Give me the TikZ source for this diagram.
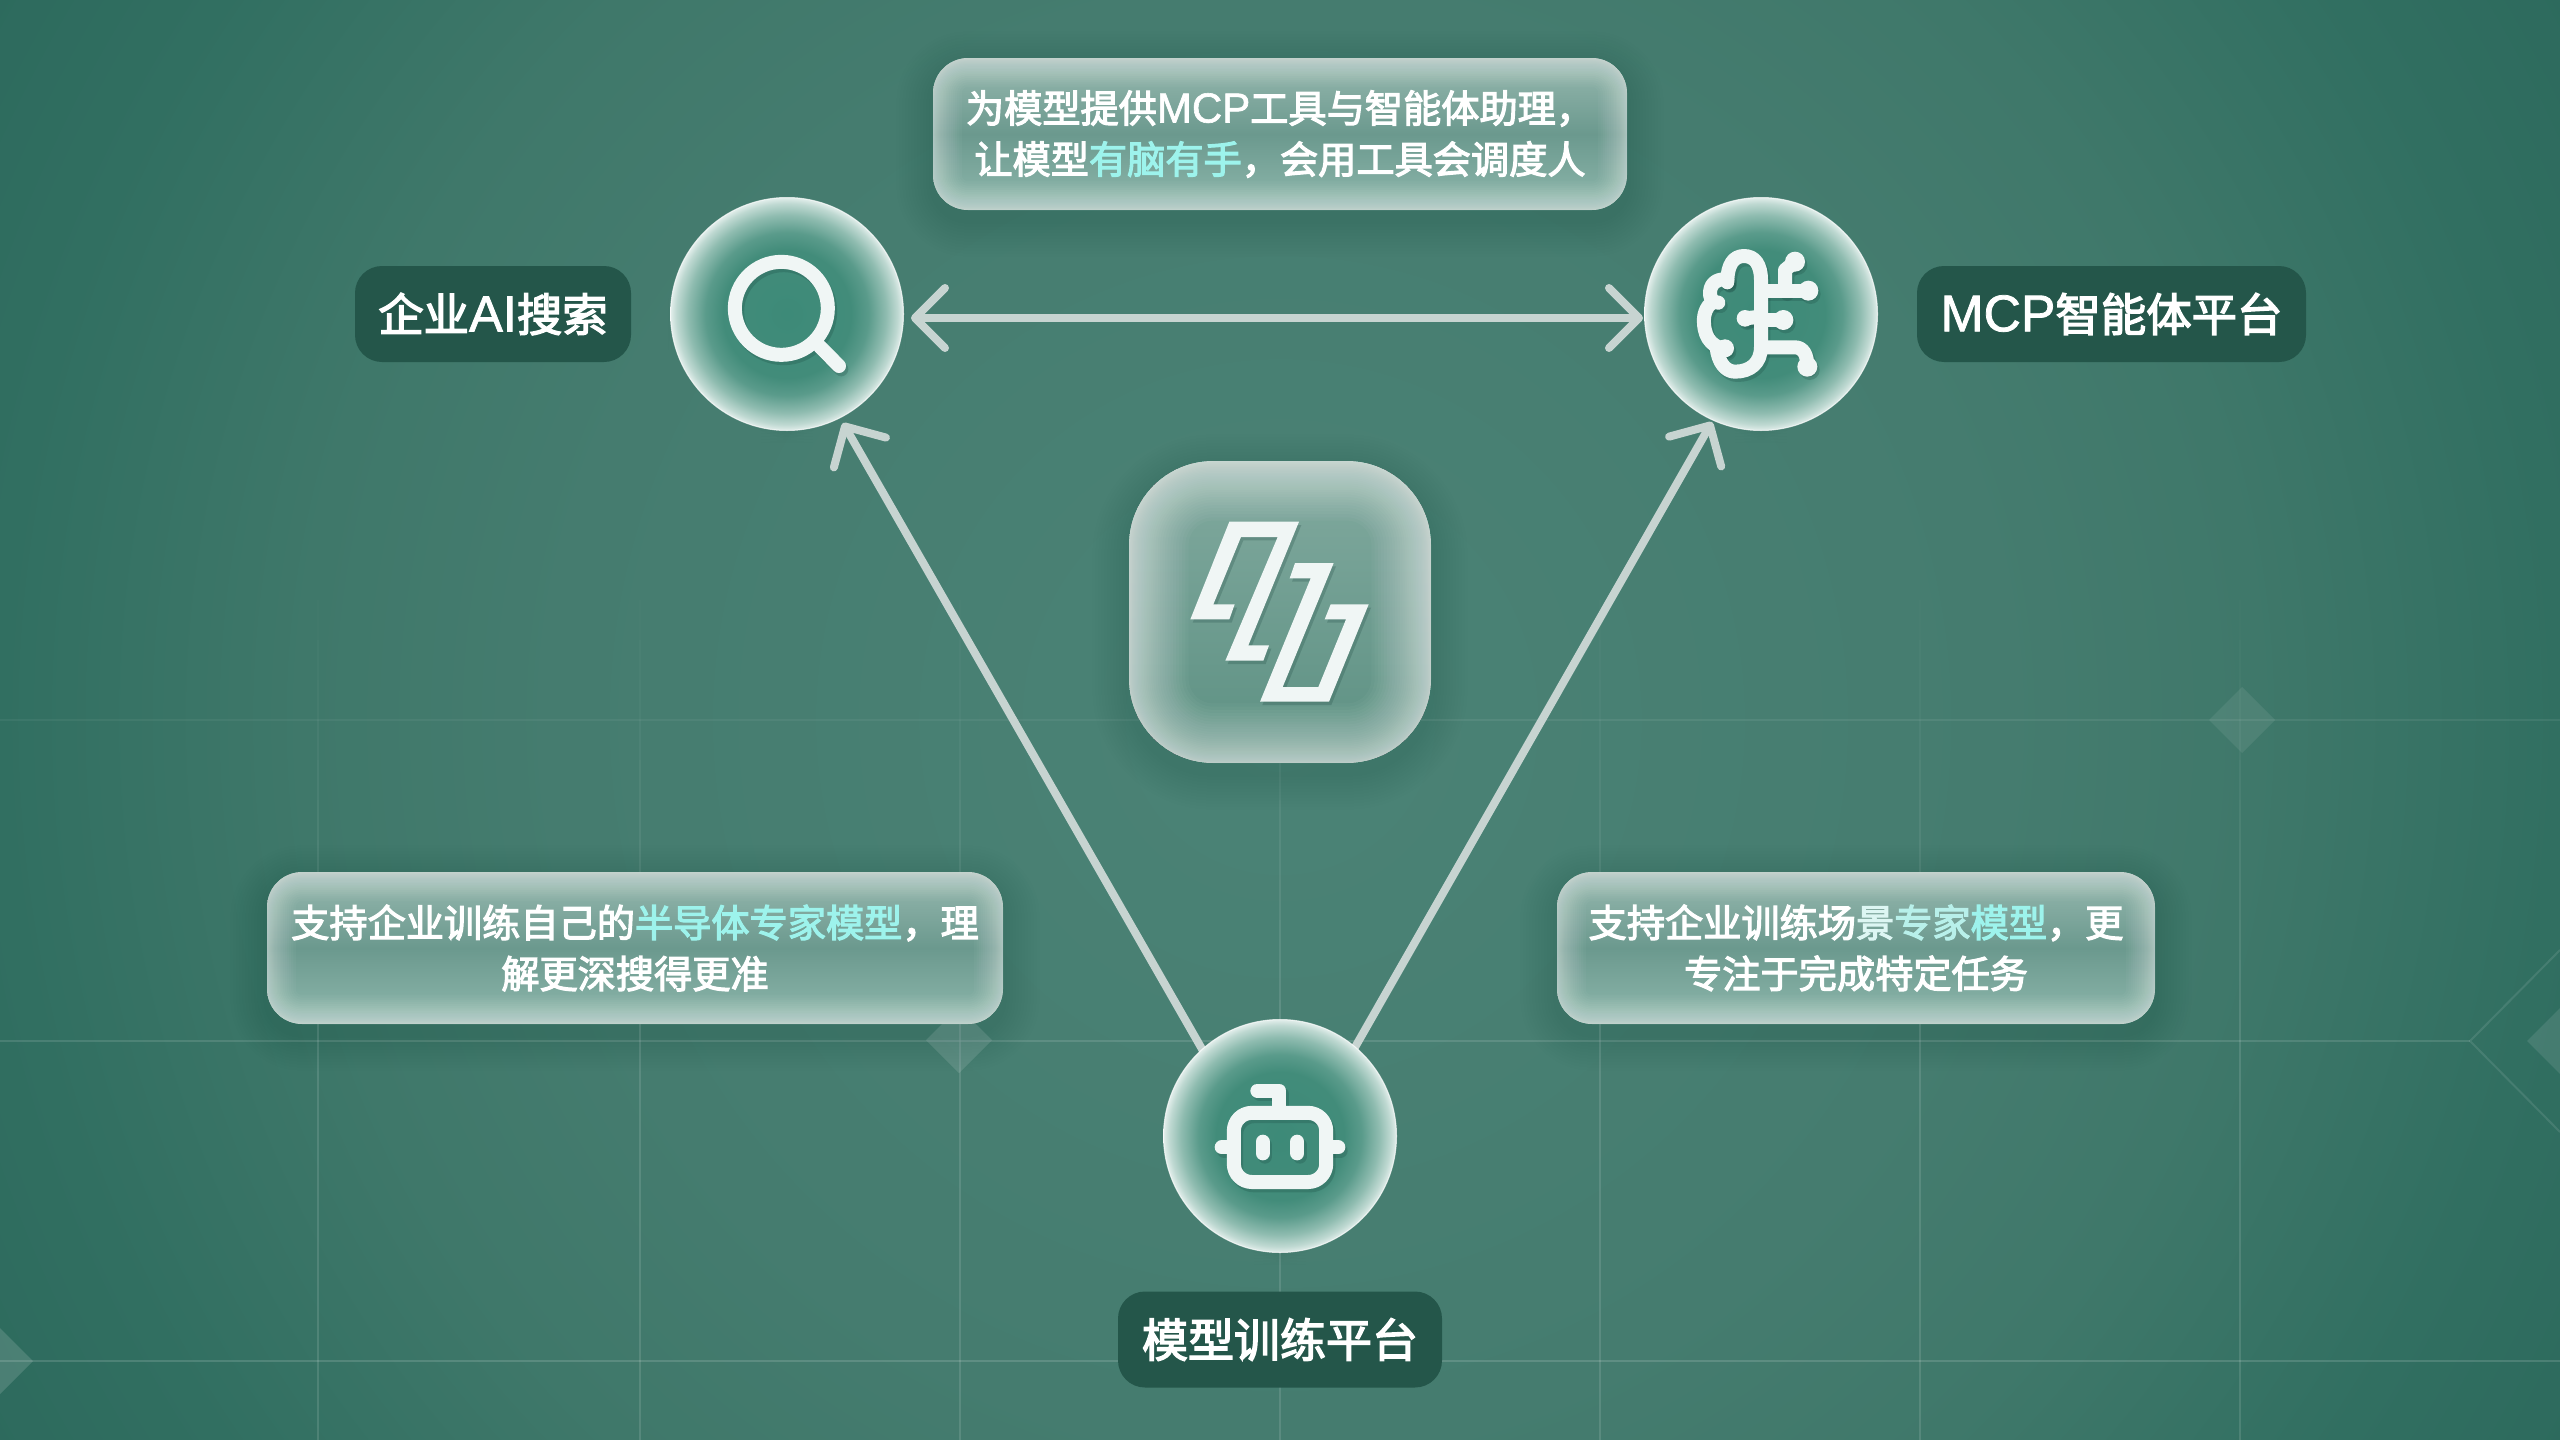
\documentclass[tikz,border=0pt]{standalone}
\usepackage{fontspec}
\usetikzlibrary{calc,arrows.meta,shapes.geometric}
\newfontfamily\cjk[FakeBold=3]{Noto Sans CJK SC}
\newfontfamily\lat[Scale=1.1,FakeBold=1.5]{Liberation Sans}
\definecolor{bga}{HTML}{4B8376}
\definecolor{bgb}{HTML}{457C6F}
\definecolor{bgc}{HTML}{3F786A}
\definecolor{bgd}{HTML}{316F61}
\definecolor{bge}{HTML}{2D6A5D}
\definecolor{orba}{HTML}{3D8A78}
\definecolor{orbb}{HTML}{428C7A}
\definecolor{orbc}{HTML}{5A9B8B}
\definecolor{orbd}{HTML}{8FBCB0}
\definecolor{orbe}{HTML}{BFD9D2}
\definecolor{orbf}{HTML}{E2EEEB}
\definecolor{labelc}{HTML}{24564A}
\definecolor{hilite}{HTML}{9DF3EC}
\definecolor{hilitea}{HTML}{DDF6F3}
\definecolor{hiliteb}{HTML}{B8F0EA}
\definecolor{linkc}{HTML}{C7D4D1}
\definecolor{iconc}{HTML}{F0F6F5}
\definecolor{shadowc}{HTML}{17403A}
\pgfdeclareradialshading{bgr}{\pgfpoint{0bp}{0bp}}{color(0bp)=(bga);color(12.2bp)=(bgb);color(16.5bp)=(bgc);color(21.6bp)=(bgd);color(25bp)=(bge);color(50bp)=(bge)}
\pgfdeclareradialshading{orbr}{\pgfpoint{0bp}{0bp}}{color(0bp)=(orba);color(13.75bp)=(orbb);color(17.5bp)=(orbc);color(21.25bp)=(orbd);color(23.75bp)=(orbe);color(25bp)=(orbf);color(50bp)=(orbf)}
\pgfdeclarelayer{backdrop}
\pgfdeclarelayer{shadows}
\pgfdeclarelayer{links}
\pgfsetlayers{backdrop,shadows,links,main}
\newcommand{\softshadow}[2]{%
  \begin{pgfonlayer}{shadows}
  \foreach \i in {3,6,...,36}{%
    \pgfmathsetmacro{\rr}{#2+\i*0.5}
    \fill[shadowc,opacity=.012,rounded corners=\rr pt] ($(#1.south west)+(-\i,\i+10)$) rectangle ($(#1.north east)+(\i,-\i+10)$);
  }
  \end{pgfonlayer}}
\newcommand{\insetglow}[4]{%
  \foreach \k in {1,...,#2}{%
    \pgfmathsetmacro{\ww}{#3*\k*\k}
    \draw[white,opacity=#4,line width=\ww pt,rounded corners=#1] (path picture bounding box.south west) rectangle (path picture bounding box.north east);
  }}
\newcommand{\iconpair}[3]{%
  \begin{scope}[shift={#1},x=.16667pt,y=-.16667pt,line cap=round,line join=round,line width=#2]
    \begin{scope}[shift={(7,10)},draw=shadowc,fill=shadowc,opacity=.22] #3 \end{scope}
    \begin{scope}[draw=iconc,fill=iconc] #3 \end{scope}
  \end{scope}}
\newcommand{\latin}[1]{{\lat #1}}
\tikzset{
  x=.5pt,y=-.5pt,
  orb/.style={circle,inner sep=0pt,minimum size=116.5pt,shading=orbr,draw=white,draw opacity=.7,line width=.5pt},
  card/.style={rectangle,rounded corners=17.5pt,inner sep=0pt,minimum height=76pt,align=center,text=white,
    font=\cjk\fontsize{19.1}{25.5}\selectfont,
    top color=cardtop,bottom color=cardbot,middle color=cardmid,
    path picture={\insetglow{17.5pt}{24}{.05}{.03}}},
  squircle/.style={rectangle,rounded corners=42pt,inner sep=0pt,minimum size=151pt,
    top color=squitop,bottom color=squibot,
    path picture={\insetglow{42pt}{36}{.046}{.03}}},
  tag/.style={rectangle,rounded corners=13.5pt,inner sep=0pt,minimum height=48pt,fill=labelc,text=white,
    font=\cjk\fontsize{23}{27}\selectfont},
  link/.style={draw=linkc,line width=4pt,line cap=round,line join=round},
  barb/.tip={Straight Barb[length=15pt,width=30pt,round]},
  gridline/.style={white,line width=1pt},
  deco/.style={fill=white},
}
\definecolor{cardtop}{HTML}{98B9B0}
\definecolor{cardmid}{HTML}{6B998E}
\definecolor{cardbot}{HTML}{8FB8AD}
\definecolor{squitop}{HTML}{82AA9F}
\definecolor{squibot}{HTML}{5C9082}
\begin{document}
\begin{tikzpicture}
\useasboundingbox (0,0) rectangle (2560,1440);
\begin{pgfonlayer}{backdrop}
  \begin{scope}
    \clip (0,0) rectangle (2560,1440);
    \shade[shading=bgr] (1280,720) circle (740pt);
    % grid
    \foreach \gx in {318,640,960,1280,1600,1920,2240}{
      \foreach \sy [evaluate=\sy as \op using {max(0,(\sy-560)/440)*0.12}] in {600,640,...,960}{
        \draw[gridline,opacity=\op] (\gx,\sy) -- (\gx,\sy+40);
      }
      \draw[gridline,opacity=.12] (\gx,1000) -- (\gx,1440);
    }
    \draw[gridline,opacity=.05] (0,720) -- (1400,720);
    \draw[gridline,opacity=.07] (1400,720) -- (2560,720);
    \draw[gridline,opacity=.12] (0,1041) -- (2470,1041);
    \draw[gridline,opacity=.14] (0,1361) -- (2560,1361);
    \draw[gridline,opacity=.1] (2560,950) -- (2470,1041) -- (2560,1132);
    % diamonds
    \fill[deco,opacity=.08] (2242,687) -- (2275,720) -- (2242,753) -- (2209,720) -- cycle;
    \fill[deco,opacity=.1] (2560,1008) -- (2593,1041) -- (2560,1074) -- (2527,1041) -- cycle;
    \fill[deco,opacity=.12] (959,1007) -- (992,1040) -- (959,1073) -- (926,1040) -- cycle;
    \fill[deco,opacity=.14] (0,1328) -- (33,1361) -- (0,1394) -- (-33,1361) -- cycle;
  \end{scope}
\end{pgfonlayer}

% tags
\node[tag,minimum width=138pt] (tagsearch) at (493,314) {\fontsize{22.7}{27}\selectfont 企业{\fontsize{23}{27}\selectfont\latin{AI}}搜索};
\node[tag,minimum width=194.5pt] (tagbrain) at (2111.5,314) {\fontsize{22.7}{27}\selectfont {\fontsize{23.5}{27}\selectfont\latin{MCP}}智能体平台};
\node[tag,minimum width=162pt] (tagrobot) at (1280,1339.5) {模型训练平台};

% glass orbs
\node[orb] (search) at (787,314) {};
\node[orb] (brain) at (1761,314) {};
\node[orb] (robot) at (1280,1136) {};
\softshadow{search}{58.25}
\softshadow{brain}{58.25}
\softshadow{robot}{58.25}

% centre squircle
\node[squircle] (logo) at (1280,612) {};
\softshadow{logo}{42}

% cards
\node[card,minimum width=347pt] (cardtop) at (1280,134) {为模型提供\latin{MCP}工具与智能体助理，\\让模型{\color{hilite}有脑有手}，会用工具会调度人};
\node[card,minimum width=368pt] (cardleft) at (635,948) {支持企业训练自己的{\color{hilite}半导体专家模型}，理\\解更深搜得更准};
\node[card,minimum width=299pt] (cardright) at (1856,948) {支持企业训练场{\color{hilitea}景}{\color{hiliteb}专家}{\color{hilite}模型}，更\\专注于完成特定任务};
\softshadow{cardtop}{17.5}
\softshadow{cardleft}{17.5}
\softshadow{cardright}{17.5}

% connectors
\begin{pgfonlayer}{links}
  \draw[link,barb-barb] ($(search.east)+(7,4)$) -- ($(brain.west)+(-1,4)$);
  \draw[link,-barb] ($(robot.center)+(-74,-80)$) -- ($(search.center)+(56,109)$);
  \draw[link,-barb] ($(robot.center)+(70,-80)$) -- ($(brain.center)+(-49,108)$);
\end{pgfonlayer}

% magnifier icon
\iconpair{(640,170)}{7pt}{
  \draw (424,415) circle (139.5);
  \draw (540,530) -- (597,588);
}
% brain icon
\iconpair{(1620,170)}{7pt}{
  \draw (322,335) .. controls (322,285) and (340,258) .. (372,258) .. controls (405,258) and (423,285) .. (423,330) -- (423,530) .. controls (423,580) and (390,605) .. (345,605) .. controls (315,605) and (295,575) .. (290,535);
  \draw (322,328) .. controls (285,325) and (268,345) .. (270,375) .. controls (272,390) and (285,398) .. (295,398);
  \draw (280,395) .. controls (255,410) and (250,440) .. (252,460) .. controls (254,510) and (285,535) .. (315,535);
  \draw (375,445) -- (423,440);
  \draw (423,362) -- (565,362);
  \draw (495,362) -- (495,300) -- (525,275);
  \draw (423,450) -- (490,450);
  \draw (423,532) -- (525,532) .. controls (550,532) and (562,555) .. (562,590);
  \fill (525,275) circle (30);
  \fill (565,362) circle (30);
  \fill (490,450) circle (30);
  \fill (562,590) circle (30);
  \fill (322,338) circle (20);
  \fill (315,535) circle (27);
  \fill (375,445) circle (25);
}
% robot icon
\iconpair{(1140,1000)}{7pt}{
  \draw[rounded corners=9pt] (281.5,338.5) rectangle (558.5,546);
  \draw (352,272) -- (418,272) -- (418,320);
  \draw (245,442) -- (262,442);
  \draw (595,442) -- (578,442);
  \draw (368,425) -- (368,460);
  \draw (472,425) -- (472,460);
}
% centre logo
\iconpair{(1100,440)}{0pt}{
  \fill (388,245) -- (597,245) -- (445,616) -- (507,616) -- (490,662) -- (376,662) -- (533,291) -- (423,291) -- (340,493) -- (404,493) -- (388,538) -- (271,538) -- cycle;
  \fill (701,369) -- (585,369) -- (569,415) -- (632,415) -- (480,785) -- (687,785) -- (806,493) -- (692,493) -- (674,538) -- (738,538) -- (655,741) -- (548,741) -- cycle;
}
\end{tikzpicture}
\end{document}
